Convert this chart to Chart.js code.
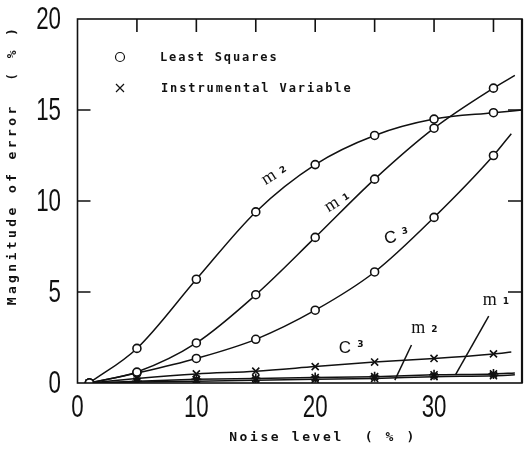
<!DOCTYPE html>
<html><head><meta charset="utf-8">
<script src="https://cdn.jsdelivr.net/npm/chart.js@4/dist/chart.umd.min.js"></script>
<style>html,body{margin:0;padding:0;background:#fff}#wrap{width:532px;height:451px;position:relative}</style>
</head><body><div id="wrap"><canvas id="c" width="532" height="451"></canvas></div>
<script>
// ---- data ----
const noise = [1, 5, 10, 15, 20, 25, 30, 35];
const lsM2 = [0, 1.9, 5.7, 9.4, 12.0, 13.6, 14.5, 14.85];
const lsM1 = [0, 0.6, 2.2, 4.85, 8.0, 11.2, 14.0, 16.2];
const lsC3 = [0, 0.55, 1.35, 2.4, 4.0, 6.1, 9.1, 12.5];
const ivC3 = [0, 0.25, 0.5, 0.65, 0.9, 1.15, 1.35, 1.6];
const ivM2 = [0, 0.1, 0.2, 0.25, 0.3, 0.35, 0.45, 0.5];
const ivM1 = [0, 0.05, 0.1, 0.15, 0.2, 0.25, 0.35, 0.4];
// where each drawn line ends beyond its last marker
const endX = [37.4, 36.8, 36.5, 36.5, 36.8, 36.8];
const endY = [15.0, 16.9, 13.7, 1.7, 0.55, 0.45];
const xTicks = [0, 10, 20, 30];
const yTicks = [0, 5, 10, 15, 20];
const frameTicksX = [5, 10, 15, 20, 25, 30, 35];
const frameTicksY = [5, 10, 15];
const legendLabels = ['Least Squares', 'Instrumental Variable'];
const xTitle = 'Noise level  ( % )';
const yTitle = 'Magnitude of error  ( % )';
// curve labels: [main, subscript, x, y, rotationDeg]
const curveLabels = [
  ['m', '2', 16.4, 11.5, -32],
  ['m', '1', 21.7, 10.0, -32],
  ['C', '3', 26.8, 8.1, -12],
  ['m', '1', 35.1, 4.6, 0],
  ['m', '2', 29.1, 3.1, 0],
  ['C', '3', 23.0, 2.0, 0]
];
const leaders = [[[28.1, 2.09], [26.7, 0.16]], [[34.6, 3.68], [31.8, 0.44]]];

function pts(ys, i) {
  const a = noise.map((x, k) => ({x: x, y: ys[k]}));
  a.push({x: endX[i], y: endY[i]});
  return a;
}
const radiusFor = (r) => noise.map(() => r).concat([0]);

const series = [lsM2, lsM1, lsC3, ivC3, ivM2, ivM1];
const styles = ['circle', 'circle', 'circle', 'crossRot', 'star', 'crossRot'];
const datasets = series.map((s, i) => ({
  data: pts(s, i),
  borderColor: '#111',
  borderWidth: 1.5,
  backgroundColor: i < 3 ? '#fff' : '#111',
  pointBackgroundColor: '#fff',
  pointBorderColor: '#111',
  pointBorderWidth: 1.6,
  pointStyle: styles[i],
  pointRadius: radiusFor(i < 3 ? 4 : 5),
  cubicInterpolationMode: 'monotone',
  fill: false,
  order: i < 3 ? 0 : 1
}));

const TICK_FONT = '31px "Liberation Sans", Arial, sans-serif';
const TICK_SQUEEZE = 0.72;

const deco = {
  id: 'deco',
  afterDraw(chart) {
    const ctx = chart.ctx, a = chart.chartArea;
    const xs = chart.scales.x, ys = chart.scales.y;
    ctx.save();
    ctx.strokeStyle = '#111';
    ctx.fillStyle = '#111';
    // condensed tick labels taken from the scales' own ticks
    ctx.font = TICK_FONT;
    ctx.textBaseline = 'middle';
    xs.ticks.forEach(t => {
      const p = xs.getPixelForValue(t.value);
      ctx.save(); ctx.translate(p, 407); ctx.scale(TICK_SQUEEZE, 1);
      ctx.textAlign = 'center'; ctx.fillText(String(t.value), 0, 1); ctx.restore();
    });
    ys.ticks.forEach(t => {
      const p = ys.getPixelForValue(t.value);
      ctx.save(); ctx.translate(61, p); ctx.scale(TICK_SQUEEZE, 1);
      ctx.textAlign = 'right'; ctx.fillText(String(t.value), 0, 1); ctx.restore();
    });
    // frame
    ctx.lineWidth = 1.6;
    ctx.strokeRect(a.left, a.top, a.right - a.left, a.bottom - a.top);
    ctx.lineWidth = 2.2;
    ctx.beginPath(); ctx.moveTo(a.right, a.top); ctx.lineTo(a.right, a.bottom); ctx.stroke();
    // inward ticks
    ctx.lineWidth = 1.6;
    ctx.beginPath();
    frameTicksX.forEach(v => { const p = xs.getPixelForValue(v); ctx.moveTo(p, a.top); ctx.lineTo(p, a.top + 13); });
    frameTicksY.forEach(v => {
      const p = ys.getPixelForValue(v);
      ctx.moveTo(a.left, p); ctx.lineTo(a.left + 13, p);
      ctx.moveTo(a.right, p); ctx.lineTo(a.right - 14, p);
    });
    ctx.stroke();
    // leader lines
    ctx.lineWidth = 1.5;
    leaders.forEach(l => {
      ctx.beginPath();
      ctx.moveTo(xs.getPixelForValue(l[0][0]), ys.getPixelForValue(l[0][1]));
      ctx.lineTo(xs.getPixelForValue(l[1][0]), ys.getPixelForValue(l[1][1]));
      ctx.stroke();
    });
    // curve labels
    curveLabels.forEach(c => {
      const px = xs.getPixelForValue(c[2]), py = ys.getPixelForValue(c[3]);
      ctx.save();
      ctx.translate(px, py);
      ctx.rotate(c[4] * Math.PI / 180);
      ctx.textBaseline = 'alphabetic';
      ctx.textAlign = 'left';
      if (c[0] === 'm') ctx.font = '18px "Liberation Serif", serif';
      else ctx.font = '17px "Liberation Sans", sans-serif';
      const w = ctx.measureText(c[0]).width;
      ctx.fillText(c[0], -12, 6);
      ctx.font = 'bold 9px "DejaVu Sans", sans-serif';
      ctx.fillText(c[1], -12 + w + 6, c[0] === 'm' ? 5 : 0);
      ctx.restore();
    });
    // legend
    ctx.font = 'bold 12px "DejaVu Sans Mono", monospace';
    ctx.letterSpacing = '1.9px';
    ctx.textBaseline = 'middle';
    ctx.textAlign = 'left';
    ctx.lineWidth = 1.2;
    ctx.beginPath(); ctx.arc(120, 57, 4.5, 0, Math.PI * 2); ctx.stroke();
    ctx.beginPath();
    ctx.moveTo(116, 84); ctx.lineTo(124, 92); ctx.moveTo(124, 84); ctx.lineTo(116, 92);
    ctx.stroke();
    ctx.fillText(legendLabels[0], 160, 58);
    ctx.fillText(legendLabels[1], 161, 89);
    // axis titles
    ctx.font = 'bold 13px "DejaVu Sans Mono", monospace';
    ctx.letterSpacing = '2.6px';
    ctx.textAlign = 'center';
    ctx.fillText(xTitle, 323, 438);
    ctx.save();
    ctx.translate(13, 165);
    ctx.rotate(-Math.PI / 2);
    ctx.letterSpacing = '3.4px';
    ctx.fillText(yTitle, 0, 0);
    ctx.restore();
    ctx.restore();
  }
};

new Chart(document.getElementById('c'), {
  type: 'line',
  data: {datasets: datasets},
  plugins: [deco],
  options: {
    responsive: false,
    animation: false,
    layout: {padding: {left: 0, right: 10, top: 19, bottom: 0}},
    plugins: {legend: {display: false}, tooltip: {enabled: false}},
    scales: {
      x: {
        type: 'linear', min: 0, max: 37.4,
        afterBuildTicks(s) { s.ticks = xTicks.map(v => ({value: v})); },
        afterFit(s) { s.height = 68; },
        grid: {display: false, drawTicks: false},
        border: {display: false},
        ticks: {display: false}
      },
      y: {
        type: 'linear', min: 0, max: 20,
        afterBuildTicks(s) { s.ticks = yTicks.map(v => ({value: v})); },
        afterFit(s) { s.width = 77.5; },
        grid: {display: false, drawTicks: false},
        border: {display: false},
        ticks: {display: false}
      }
    }
  }
});
</script></body></html>
